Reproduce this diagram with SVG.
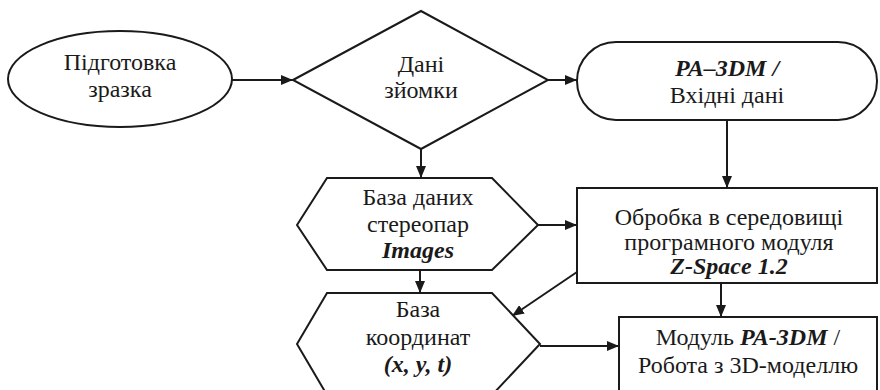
<svg xmlns="http://www.w3.org/2000/svg" width="880" height="390" viewBox="0 0 880 390">
<defs>
<marker id="ah" viewBox="0 0 12 10" refX="12" refY="5" markerWidth="12" markerHeight="10" markerUnits="userSpaceOnUse" orient="auto">
<path d="M0,0 L12,5 L0,10 z" fill="#1a1a1a"/>
</marker>
</defs>
<rect width="880" height="390" fill="#fff"/>
<g id="connectors" stroke="#1a1a1a" stroke-width="2" fill="none" marker-end="url(#ah)">
<line x1="232" y1="80" x2="293" y2="80"/>
<line x1="548" y1="80" x2="577" y2="80"/>
<line x1="421" y1="149" x2="421" y2="178"/>
<line x1="727" y1="120" x2="727" y2="188"/>
<line x1="538" y1="225" x2="577" y2="225"/>
<line x1="420" y1="270" x2="420" y2="293"/>
<line x1="577" y1="272" x2="512" y2="316"/>
<line x1="721" y1="283" x2="721" y2="317"/>
<line x1="540" y1="346" x2="619" y2="346"/>
</g>
<g id="n1">
<ellipse cx="120" cy="79" rx="112" ry="48" fill="#fff" stroke="#1a1a1a" stroke-width="2"/>
<text x="120" y="70" font-family="Liberation Serif" font-size="24" fill="#1a1a1a" text-anchor="middle">Підготовка</text>
<text x="120" y="97" font-family="Liberation Serif" font-size="24" fill="#1a1a1a" text-anchor="middle">зразка</text>
</g>
<g id="n2">
<polygon points="293,80 421,11 548,80 421,149" fill="#fff" stroke="#1a1a1a" stroke-width="2"/>
<text x="421" y="72" font-family="Liberation Serif" font-size="24" fill="#1a1a1a" text-anchor="middle">Дані</text>
<text x="421" y="98" font-family="Liberation Serif" font-size="24" fill="#1a1a1a" text-anchor="middle">зйомки</text>
</g>
<g id="n3">
<rect x="577" y="42" width="300" height="78" rx="39" fill="#fff" stroke="#1a1a1a" stroke-width="2"/>
<text x="727" y="76" font-family="Liberation Serif" font-size="24" fill="#1a1a1a" text-anchor="middle" font-weight="bold" font-style="italic">PA–3DM /</text>
<text x="727" y="103" font-family="Liberation Serif" font-size="24" fill="#1a1a1a" text-anchor="middle">Вхідні дані</text>
</g>
<g id="n4">
<polygon points="297,225 327,178 492,178 538,225 492,270 327,270" fill="#fff" stroke="#1a1a1a" stroke-width="2"/>
<text x="418" y="205" font-family="Liberation Serif" font-size="24" fill="#1a1a1a" text-anchor="middle">База даних</text>
<text x="418" y="232" font-family="Liberation Serif" font-size="24" fill="#1a1a1a" text-anchor="middle">стереопар</text>
<text x="418" y="258" font-family="Liberation Serif" font-size="24" fill="#1a1a1a" text-anchor="middle" font-weight="bold" font-style="italic">Images</text>
</g>
<g id="n5">
<rect x="577" y="188" width="300" height="95" fill="#fff" stroke="#1a1a1a" stroke-width="2"/>
<text x="729" y="225" font-family="Liberation Serif" font-size="24" fill="#1a1a1a" text-anchor="middle">Обробка в середовищі</text>
<text x="729" y="250" font-family="Liberation Serif" font-size="24" fill="#1a1a1a" text-anchor="middle">програмного модуля</text>
<text x="729" y="274" font-family="Liberation Serif" font-size="24" fill="#1a1a1a" text-anchor="middle" font-weight="bold" font-style="italic">Z-Space 1.2</text>
</g>
<g id="n6">
<polygon points="297,344 327,293 492,293 540,344 492,395 327,395" fill="#fff" stroke="#1a1a1a" stroke-width="2"/>
<text x="418" y="317" font-family="Liberation Serif" font-size="24" fill="#1a1a1a" text-anchor="middle">База</text>
<text x="418" y="345" font-family="Liberation Serif" font-size="24" fill="#1a1a1a" text-anchor="middle">координат</text>
<text x="418" y="372" font-family="Liberation Serif" font-size="24" fill="#1a1a1a" text-anchor="middle" font-weight="bold" font-style="italic">(x, y, t)</text>
</g>
<g id="n7">
<rect x="619" y="317" width="258" height="80" fill="#fff" stroke="#1a1a1a" stroke-width="2"/>
<text x="748" y="345" font-family="Liberation Serif" font-size="24" fill="#1a1a1a" text-anchor="middle">Модуль <tspan font-weight="bold" font-style="italic">PA-3DM</tspan> /</text>
<text x="748" y="373" font-family="Liberation Serif" font-size="24" fill="#1a1a1a" text-anchor="middle">Робота з 3D-моделлю</text>
</g>
</svg>
